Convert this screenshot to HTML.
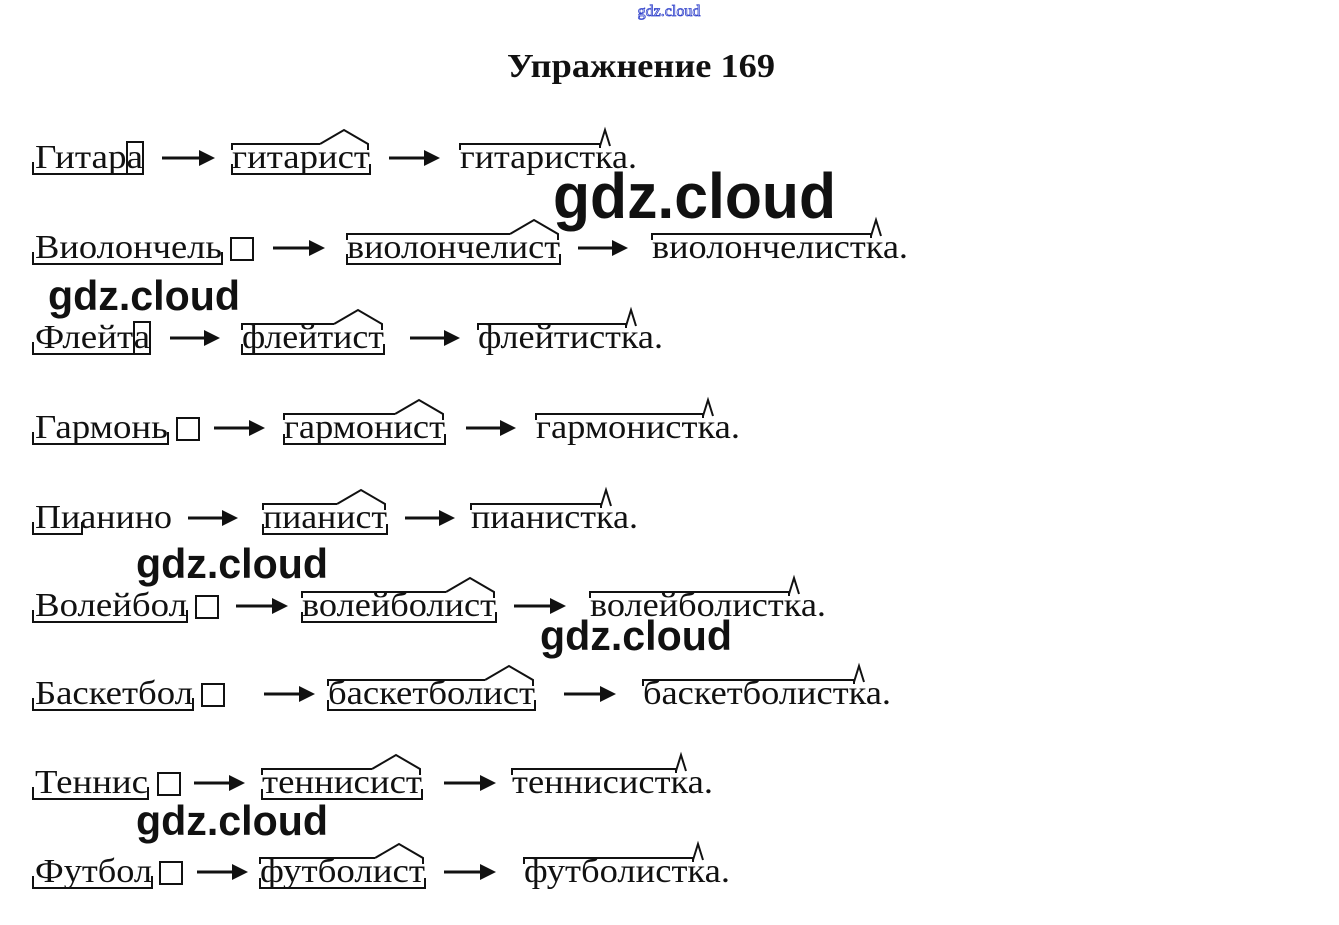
<!DOCTYPE html>
<html><head><meta charset="utf-8"><style>
html,body{margin:0;padding:0;background:#fff;width:1339px;height:925px;overflow:hidden}
svg{position:absolute;left:0;top:0}
text{font-family:"Liberation Serif",serif}
.w{font-size:34px;fill:#111}
.g{font-family:"Liberation Sans","DejaVu Sans",sans-serif;font-weight:bold;fill:#111}
</style></head><body>
<svg id="s" width="1339" height="925" xmlns="http://www.w3.org/2000/svg">
<text x="669" y="16" text-anchor="middle" font-family="Liberation Sans,sans-serif" font-size="16" fill="none" stroke="#3344cc" stroke-width="0.8">gdz.cloud</text>
<text x="641" y="77" text-anchor="middle" font-size="34" font-weight="bold" fill="#111" textLength="268" lengthAdjust="spacingAndGlyphs">Упражнение 169</text>
<g id="rows" class="w"></g>
<g id="m" fill="none" stroke="#111" stroke-width="2"></g>
<text class="g" x="553" y="218" font-size="64" textLength="283" lengthAdjust="spacingAndGlyphs">gdz.cloud</text>
<text class="g" x="48" y="310" font-size="42" textLength="192" lengthAdjust="spacingAndGlyphs">gdz.cloud</text>
<text class="g" x="136" y="578" font-size="42" textLength="192" lengthAdjust="spacingAndGlyphs">gdz.cloud</text>
<text class="g" x="540" y="650" font-size="42" textLength="192" lengthAdjust="spacingAndGlyphs">gdz.cloud</text>
<text class="g" x="136" y="835" font-size="42" textLength="192" lengthAdjust="spacingAndGlyphs">gdz.cloud</text>
</svg>
<script>
var R=[
[168,"Гитара",35,143,127,null,[162,215],"гитарист",232,370,[389,440],"гитаристка.",460,637],
[258,"Виолончель",35,222,222,231,[273,325],"виолончелист",347,560,[578,628],"виолончелистка.",652,908],
[348,"Флейта",35,150,134,null,[170,220],"флейтист",242,384,[410,460],"флейтистка.",478,663],
[438,"Гармонь",35,168,168,177,[214,265],"гармонист",284,445,[466,516],"гармонистка.",536,740],
[528,"Пианино",35,172,82,null,[188,238],"пианист",263,387,[405,455],"пианистка.",471,638],
[616,"Волейбол",35,187,187,196,[236,288],"волейболист",302,496,[514,566],"волейболистка.",590,826],
[704,"Баскетбол",35,193,193,202,[264,315],"баскетболист",328,535,[564,616],"баскетболистка.",643,891],
[793,"Теннис",35,148,148,158,[194,245],"теннисист",262,422,[444,496],"теннисистка.",512,713],
[882,"Футбол",35,152,152,160,[197,248],"футболист",260,425,[444,496],"футболистка.",524,730]];
var ns="http://www.w3.org/2000/svg",rows=document.getElementById("rows"),m=document.getElementById("m");
function t(s,x1,x2,y){var e=document.createElementNS(ns,"text");e.setAttribute("x",x1);e.setAttribute("y",y);e.setAttribute("textLength",x2-x1);e.setAttribute("lengthAdjust","spacingAndGlyphs");e.textContent=s;rows.appendChild(e);}
function p(d,f,w){var e=document.createElementNS(ns,"path");e.setAttribute("d",d);if(f){e.setAttribute("fill","#111");e.setAttribute("stroke","none");}if(w)e.setAttribute("stroke-width",w);m.appendChild(e);}
R.forEach(function(r){var b=r[0];
t(r[1],r[2],r[3],b);
p("M33,"+(b-6)+"V"+(b+6)+"H"+r[4]+"V"+(b-6));
if(r[5]!==null){p("M"+r[5]+","+(b-20)+"h22v22h-22z");}
if(r[0]==168||r[0]==348){p("M"+(r[4])+","+(b-26)+"h16v32h-16z");}
[r[6],r[10]].forEach(function(a){var y=b-10;p("M"+a[0]+","+y+"H"+(a[1]-12),0,3);p("M"+(a[1]-16)+","+(y-8)+"L"+a[1]+","+y+"L"+(a[1]-16)+","+(y+8)+"Z",1);});
t(r[7],r[8],r[9],b);
var hs=r[9]-50;
p("M"+r[8]+","+(b-18)+"V"+(b-24)+"H"+hs);
p("M"+hs+","+(b-24)+"L"+(hs+24)+","+(b-38)+"L"+(r[9]-2)+","+(b-24)+"V"+(b-18));
p("M"+r[8]+","+(b-4)+"V"+(b+6)+"H"+r[9]+"V"+(b-4));
t(r[11],r[12],r[13],b);
var c=r[13]-32;
p("M"+r[12]+","+(b-18)+"V"+(b-24)+"H"+(c-5)+"V"+(b-20));
p("M"+(c-5)+","+(b-22)+"L"+c+","+(b-38)+"L"+(c+5)+","+(b-22));
});
</script>
</body></html>
